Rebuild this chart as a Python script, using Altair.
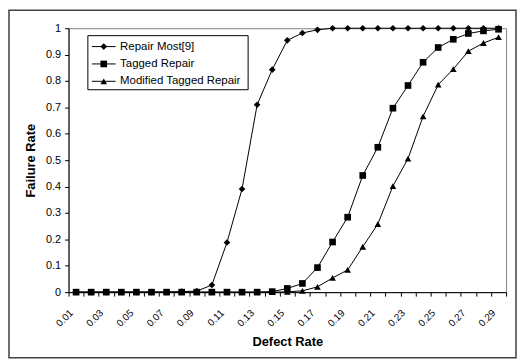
import altair as alt
import pandas as pd

# ---------------- data ----------------
rates = ["0.01", "0.02", "0.03", "0.04", "0.05", "0.06", "0.07", "0.08", "0.09", "0.10",
         "0.11", "0.12", "0.13", "0.14", "0.15", "0.16", "0.17", "0.18", "0.19", "0.20",
         "0.21", "0.22", "0.23", "0.24", "0.25", "0.26", "0.27", "0.28", "0.29"]
x_labels = ["0.01", "0.03", "0.05", "0.07", "0.09", "0.11", "0.13", "0.15",
            "0.17", "0.19", "0.21", "0.23", "0.25", "0.27", "0.29"]
y_ticks = [0, 0.1, 0.2, 0.3, 0.4, 0.5, 0.6, 0.7, 0.8, 0.9, 1.0]
series_names = ["Repair Most[9]", "Tagged Repair", "Modified Tagged Repair"]
marker_shapes = ["diamond", "square", "triangle-up"]

repair_most = [0, 0, 0, 0, 0, 0, 0, 0.002, 0.004, 0.027,
               0.188, 0.391, 0.71, 0.843, 0.954, 0.982, 0.994, 1.0, 1.0, 1.0,
               1.0, 1.0, 1.0, 1.0, 1.0, 1.0, 1.0, 1.0, 1.0]
tagged = [0, 0, 0, 0, 0, 0, 0, 0, 0, 0,
          0, 0, 0, 0.002, 0.014, 0.033, 0.093, 0.19, 0.284, 0.442,
          0.549, 0.697, 0.783, 0.871, 0.927, 0.958, 0.98, 0.99, 0.996]
modified = [0, 0, 0, 0, 0, 0, 0, 0, 0, 0,
            0, 0, 0, 0, 0.001, 0.005, 0.02, 0.054, 0.084, 0.172,
            0.258, 0.402, 0.506, 0.666, 0.786, 0.845, 0.913, 0.944, 0.966]

rows = []
for name, vals in zip(series_names, [repair_most, tagged, modified]):
    for r, v in zip(rates, vals):
        rows.append({"rate": r, "value": v, "series": name})
df = pd.DataFrame(rows)
legend_df = pd.DataFrame({"series": series_names, "row": [0, 1, 2]})
xlab_df = pd.DataFrame({"rate": x_labels})
one_df = pd.DataFrame({"k": [0]})

FONT = "Liberation Sans"
W, H = 441, 266
PAD = {"left": 61, "top": 19, "right": 11, "bottom": 67}

x_axis = alt.Axis(
    tickBand="extent",
    labels=False,
    tickSize=4,
    tickColor="black",
    domainColor="black",
    grid=False,
    titleFontSize=13,
    titleFontWeight="bold",
    titleColor="black",
    titleX=W / 2,
    titleY=50,
    titleBaseline="middle",
)
x_scale = alt.Scale(type="band", paddingInner=0, paddingOuter=0)
x_enc = alt.X("rate:O", sort=rates, scale=x_scale, bandPosition=0.5, title="Defect Rate", axis=x_axis)

y_enc = alt.Y(
    "value:Q",
    scale=alt.Scale(domain=[0, 1], nice=False),
    title="Failure Rate",
    axis=alt.Axis(
        values=y_ticks,
        format="~g",
        labelFontSize=11,
        labelColor="black",
        labelPadding=4,
        tickSize=4,
        tickColor="black",
        domainColor="black",
        grid=False,
        titleFontSize=13,
        titleFontWeight="bold",
        titleColor="black",
        titleX=-38.5,
        titleY=H / 2,
        titleBaseline="middle",
    ),
)
shape_scale = alt.Scale(domain=series_names, range=marker_shapes)

frame = alt.Chart(one_df).mark_rect(fillOpacity=0, stroke="#404040", strokeWidth=1.5).encode(
    x=alt.value(-PAD["left"] + 1), x2=alt.value(W + PAD["right"] - 1),
    y=alt.value(-PAD["top"] + 1), y2=alt.value(H + PAD["bottom"] - 1),
)

lines = alt.Chart(df).mark_line(color="black", strokeWidth=1).encode(
    x=x_enc, y=y_enc, detail="series:N"
)
points = alt.Chart(df).mark_point(filled=True, color="black", size=45, opacity=1).encode(
    x=x_enc, y=y_enc, shape=alt.Shape("series:N", scale=shape_scale, legend=None)
)
xlabels = alt.Chart(xlab_df).mark_text(
    angle=315, align="right", baseline="top", font=FONT, fontSize=10, color="black", xOffset=-8
).encode(x=x_enc, y=alt.value(H + 16), text="rate:N")
main = alt.layer(lines, points, xlabels)

ly = alt.Y("row:O", scale=alt.Scale(type="point", domain=[0, 1, 2], range=[18.5, 53.5], padding=0), axis=None)
leg_box = alt.Chart(one_df).mark_rect(fill="white", stroke="black", strokeWidth=1).encode(
    x=alt.value(19.5), x2=alt.value(181), y=alt.value(7.5), y2=alt.value(62)
)
leg_rule = alt.Chart(legend_df).mark_rule(color="black", strokeWidth=1).encode(
    x=alt.value(23.5), x2=alt.value(47.5), y=ly
)
leg_pts = alt.Chart(legend_df).mark_point(filled=True, color="black", size=45, opacity=1).encode(
    x=alt.value(35.5), y=ly, shape=alt.Shape("series:N", scale=shape_scale, legend=None)
)
leg_txt = alt.Chart(legend_df).mark_text(align="left", baseline="middle", font=FONT, fontSize=11.5, color="black").encode(
    x=alt.value(52), y=ly, text="series:N"
)
legend = alt.layer(leg_box, leg_rule, leg_pts, leg_txt)

chart = alt.layer(frame, main, legend).resolve_scale(y="independent").properties(
    width=W, height=H, padding=PAD, autosize=alt.AutoSizeParams(type="none"), background="white"
).configure_view(stroke="#808080", strokeWidth=1).configure_axis(
    labelFont=FONT, titleFont=FONT
)

chart.save("out.html", embed_options={"renderer": "svg", "actions": False})
